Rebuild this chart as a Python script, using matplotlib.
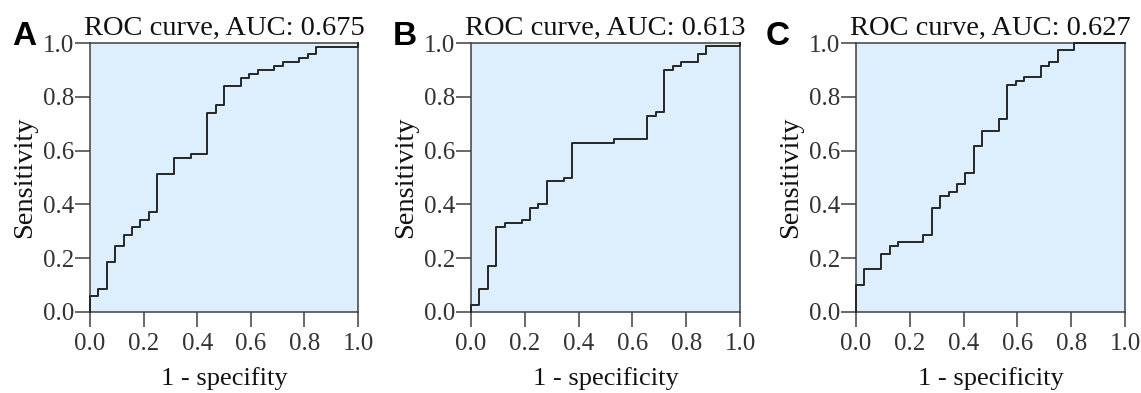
import matplotlib
matplotlib.use("Agg")
import matplotlib.pyplot as plt

# ROC points (1 - specificity, sensitivity) for the three models
panel_labels = ["A", "B", "C"]
auc_values = ["0.675", "0.613", "0.627"]
xlabels = ["1 - specifity", "1 - specificity", "1 - specificity"]

fpr_a = [0, 0, 0.031, 0.062, 0.094, 0.125, 0.156, 0.188, 0.219, 0.25, 0.312,
         0.375, 0.438, 0.469, 0.5, 0.562, 0.594, 0.625, 0.688, 0.719, 0.781,
         0.812, 0.844, 1.0]
tpr_a = [0, 0.058, 0.085, 0.186, 0.244, 0.285, 0.315, 0.343, 0.373, 0.514,
         0.572, 0.586, 0.741, 0.771, 0.841, 0.871, 0.886, 0.901, 0.916, 0.930,
         0.943, 0.958, 0.984, 1.0]

fpr_b = [0, 0, 0.031, 0.062, 0.094, 0.125, 0.188, 0.219, 0.25, 0.281, 0.344,
         0.375, 0.531, 0.656, 0.688, 0.719, 0.75, 0.781, 0.844, 0.875, 1.0]
tpr_b = [0, 0.027, 0.085, 0.172, 0.315, 0.329, 0.343, 0.387, 0.400, 0.486,
         0.500, 0.628, 0.643, 0.730, 0.743, 0.901, 0.915, 0.930, 0.960, 0.987,
         1.0]

fpr_c = [0, 0, 0.031, 0.094, 0.125, 0.156, 0.25, 0.281, 0.312, 0.344, 0.375,
         0.406, 0.438, 0.469, 0.531, 0.562, 0.594, 0.625, 0.688, 0.719, 0.75,
         0.812, 1.0]
tpr_c = [0, 0.099, 0.160, 0.214, 0.244, 0.259, 0.287, 0.388, 0.431, 0.446,
         0.476, 0.518, 0.616, 0.674, 0.717, 0.844, 0.859, 0.874, 0.916, 0.931,
         0.973, 1.0, 1.0]

ticks = [0.0, 0.2, 0.4, 0.6, 0.8, 1.0]
tick_labels = ["0.0", "0.2", "0.4", "0.6", "0.8", "1.0"]

curves = [(fpr_a, tpr_a), (fpr_b, tpr_b), (fpr_c, tpr_c)]

W, H = 1141, 393
fig = plt.figure(figsize=(W / 100, H / 100), dpi=100)

serif = "Liberation Serif"
face = "#ddeefc"
edge = "#404040"

# axes boxes in pixels: left, top, right, bottom
boxes = [(90, 43, 358, 312), (471, 43, 740, 312), (856, 43, 1125, 312)]
label_x = [12, 393, 766]

for i, ((x, y), box) in enumerate(zip(curves, boxes)):
    l, t, r, b = box
    ax = fig.add_axes([l / W, 1 - b / H, (r - l) / W, (b - t) / H])
    ax.set_facecolor(face)
    ax.step(x, y, where="post", color="#262626", lw=1.4, clip_on=False,
            zorder=3)
    ax.set_xlim(0, 1)
    ax.set_ylim(0, 1)
    ax.set_xticks(ticks)
    ax.set_yticks(ticks)
    ax.set_xticklabels(tick_labels, fontfamily=serif, fontsize=18,
                       color="#333333")
    ax.set_yticklabels(tick_labels, fontfamily=serif, fontsize=18,
                       color="#333333")
    ax.tick_params(axis="x", direction="out", length=11, width=1.1,
                   color=edge, pad=4)
    ax.tick_params(axis="y", direction="out", length=11, width=1.1,
                   color=edge, pad=0.5)
    for s in ax.spines.values():
        s.set_color(edge)
        s.set_linewidth(1.1)
    ax.set_xlabel(xlabels[i], fontfamily=serif, fontsize=19, labelpad=9,
                  color="#111111")
    ax.set_ylabel("Sensitivity", fontfamily=serif, fontsize=20.5,
                  labelpad=4, color="#111111")
    ax.set_title(f"ROC curve, AUC: {auc_values[i]}", fontfamily=serif,
                 fontsize=20.5, pad=6, color="#111111")
    fig.text(label_x[i] / W, 1 - 45 / H, panel_labels[i],
             fontfamily="Liberation Sans", fontweight="bold", fontsize=24,
             ha="left", va="baseline", color="black")

fig.savefig("out.png", dpi=100)
